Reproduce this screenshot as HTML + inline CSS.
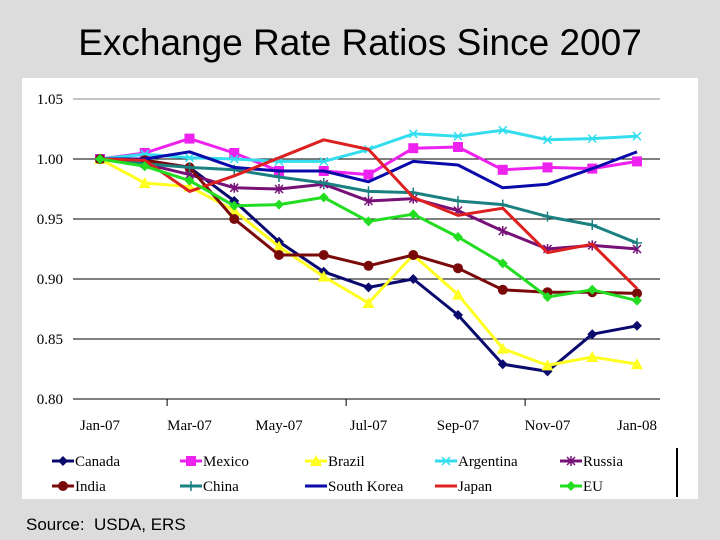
<!DOCTYPE html>
<html><head><meta charset="utf-8"><style>
body{margin:0;width:720px;height:540px;background:#dcdcdc;overflow:hidden;font-family:"Liberation Sans",sans-serif;position:relative}
#title{position:absolute;left:0;top:22px;width:720px;text-align:center;font-size:37px;color:#000}
#src{position:absolute;left:26px;top:515px;font-size:17px}
svg{position:absolute;left:0;top:0}
</style></head><body>
<div id="title">Exchange Rate Ratios Since 2007</div>
<div id="src">Source:&nbsp; USDA, ERS</div>
<svg id="c" width="720" height="540"></svg>
<script>
const months=["Jan-07","Feb-07","Mar-07","Apr-07","May-07","Jun-07","Jul-07","Aug-07","Sep-07","Oct-07","Nov-07","Dec-07","Jan-08"];
const yTicks=[0.80,0.85,0.90,0.95,1.00,1.05];
const seriesNames=["Canada","Mexico","Brazil","Argentina","Russia","India","China","South Korea","Japan","EU"];
const canada=[1.000,0.999,0.993,0.965,0.931,0.906,0.893,0.900,0.870,0.829,0.823,0.854,0.861];
const mexico=[1.000,1.005,1.017,1.005,0.990,0.990,0.987,1.009,1.010,0.991,0.993,0.992,0.998];
const brazil=[1.000,0.980,0.977,0.957,0.927,0.902,0.880,0.920,0.887,0.842,0.828,0.835,0.829];
const argentina=[1.000,1.004,1.001,1.000,0.998,0.998,1.008,1.021,1.019,1.024,1.016,1.017,1.019];
const russia=[1.000,0.996,0.987,0.976,0.975,0.979,0.965,0.967,0.957,0.940,0.925,0.928,0.925];
const india=[1.000,0.999,0.993,0.950,0.920,0.920,0.911,0.920,0.909,0.891,0.889,0.889,0.888];
const china=[1.000,0.996,0.993,0.991,0.985,0.980,0.973,0.972,0.965,0.962,0.952,0.945,0.930];
const southKorea=[1.000,1.000,1.006,0.993,0.990,0.990,0.981,0.998,0.995,0.976,0.979,0.992,1.006];
const japan=[1.000,0.999,0.973,0.986,1.001,1.016,1.008,0.968,0.953,0.959,0.922,0.929,0.892];
const eu=[1.000,0.994,0.982,0.961,0.962,0.968,0.948,0.954,0.935,0.913,0.885,0.891,0.882];
const allSeries=[canada,mexico,brazil,argentina,russia,india,china,southKorea,japan,eu];
const colors=["#0a0a6e","#ee22ee","#ffff22","#33ddee","#771177","#7a0a0a","#1a8080","#0a0aaa","#dd2020","#22dd22"];
const markers=["diamond","square","triangle","x","star","circle","plus","none","none","diamond"];
const NS="http://www.w3.org/2000/svg";
const svg=document.getElementById('c');
function mk(t,a,p){const e=document.createElementNS(NS,t);for(const k in a)e.setAttribute(k,a[k]);(p||svg).appendChild(e);return e;}
const x0=100,x1=637,yTop=99,yBot=399,vMin=0.80,vMax=1.05;
const xs=i=>x0+i*(x1-x0)/(months.length-1);
const ys=v=>yBot-(v-vMin)/(vMax-vMin)*(yBot-yTop);
const bg=mk('rect',{x:22,y:78,width:676,height:421,fill:'#fff'});


yTicks.forEach(t=>{
 const l=mk('line',{x1:73,x2:660,y1:ys(t),y2:ys(t),stroke:t===1.05?'#888':'#000','stroke-width':1});
 
 
 const tx=mk('text',{x:63,y:ys(t)+5,'text-anchor':'end','font-family':'Liberation Serif, serif','font-size':15});
 tx.textContent=t.toFixed(2);
 
 
});
const step=(x1-x0)/(months.length-1);
for(let i=1.5;i<months.length;i+=4){
 const tk=mk('line',{x1:x0+i*step,x2:x0+i*step,y1:399,y2:406,stroke:'#000'});
 
 
}
months.forEach((m,i)=>{if(i%2)return;
 const tx=mk('text',{x:xs(i),y:430,'text-anchor':'middle','font-family':'Liberation Serif, serif','font-size':15});
 tx.textContent=m;
 
 
});
function marker(type,x,y,c,g){
 let e;
 if(type==='diamond')e=mk('polygon',{points:`${x},${y-5} ${x+5},${y} ${x},${y+5} ${x-5},${y}`,fill:c},g);
 else if(type==='square')e=mk('rect',{x:x-5,y:y-5,width:10,height:10,fill:c},g);
 else if(type==='triangle')e=mk('polygon',{points:`${x},${y-6} ${x+6},${y+5} ${x-6},${y+5}`,fill:c},g);
 else if(type==='circle')e=mk('circle',{cx:x,cy:y,r:5,fill:c},g);
 else if(type==='x'||type==='star'||type==='plus'){
  const d=type==='plus'?`M${x-5} ${y}H${x+5}M${x} ${y-5}V${y+5}`:`M${x-4} ${y-4}L${x+4} ${y+4}M${x-4} ${y+4}L${x+4} ${y-4}`+(type==='star'?`M${x} ${y-5}V${y+5}`:'');
  e=mk('path',{d:d,stroke:c,'stroke-width':1.5,fill:'none'},g);
 }
 if(e){}
}
allSeries.forEach((s,k)=>{
 const g=mk('g',{});
 
 
 const ln=mk('polyline',{points:s.map((v,i)=>xs(i)+','+ys(v)).join(' '),fill:'none',stroke:colors[k],'stroke-width':3,'stroke-linejoin':'round'},g);
 
 
 s.forEach((v,i)=>marker(markers[k],xs(i),ys(v),colors[k],g));
});
const lx=[52,180,305,435,560],ly=[461,486];
seriesNames.forEach((n,k)=>{
 const x=lx[k%5],y=ly[Math.floor(k/5)];
 const g=mk('g',{});
 
 
 mk('line',{x1:x,x2:x+22,y1:y,y2:y,stroke:colors[k],'stroke-width':3},g);
 marker(markers[k],x+11,y,colors[k],g);
 const t=mk('text',{x:x+23,y:y+5,'font-family':'Liberation Serif, serif','font-size':15},g);
 t.textContent=n;
});
const bl=mk('line',{x1:677,x2:677,y1:448,y2:497,stroke:'#000','stroke-width':2});


</script>
</body></html>
